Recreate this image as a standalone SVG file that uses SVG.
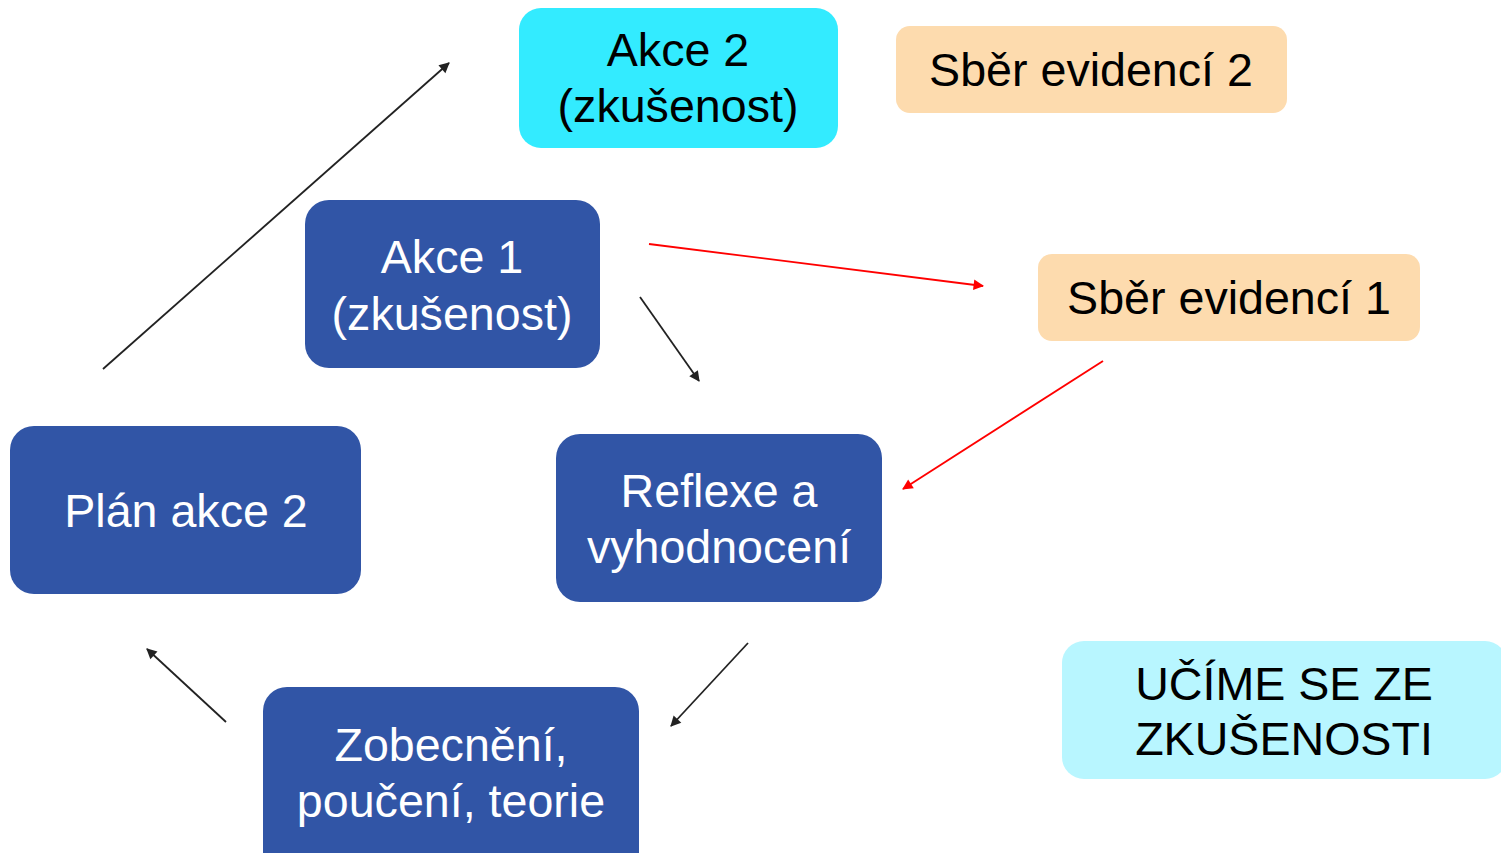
<svg xmlns="http://www.w3.org/2000/svg" width="1501" height="853" viewBox="0 0 1501 853">
<style>
text{font-family:"Liberation Sans",Arial,sans-serif;font-size:46.6px;text-anchor:middle}
.blue rect{fill:#3155A6}
.blue text{fill:#fff}
.dark text{fill:#000}
.blk{stroke:#222;stroke-width:1.8;fill:none}
.red{stroke:#f00;stroke-width:1.8;fill:none}
</style>
<defs>
<marker id="ab" viewBox="0 0 10 10" refX="9" refY="5" markerWidth="7" markerHeight="7" markerUnits="userSpaceOnUse" orient="auto" overflow="visible"><path d="M0,0 L10,5 L0,10 z" fill="#222" transform="scale(1.5) translate(-3,-1.7)"/></marker>
<marker id="ar" viewBox="0 0 10 10" refX="9" refY="5" markerWidth="7" markerHeight="7" markerUnits="userSpaceOnUse" orient="auto" overflow="visible"><path d="M0,0 L10,5 L0,10 z" fill="#f00" transform="scale(1.5) translate(-3,-1.7)"/></marker>
</defs>
<rect width="1501" height="853" fill="#fff"/>
<g id="connectors">
<line class="blk" x1="103" y1="369" x2="449" y2="63" marker-end="url(#ab)"/>
<line class="red" x1="649" y1="244" x2="983" y2="286" marker-end="url(#ar)"/>
<line class="blk" x1="640" y1="297" x2="699" y2="381" marker-end="url(#ab)"/>
<line class="red" x1="1103" y1="361" x2="903" y2="489" marker-end="url(#ar)"/>
<line class="blk" x1="748" y1="643" x2="671" y2="726" marker-end="url(#ab)"/>
<line class="blk" x1="226" y1="722" x2="147" y2="649" marker-end="url(#ab)"/>
</g>
<g id="akce2" class="dark"><rect x="519" y="8" width="319" height="140" rx="22" fill="#33EBFF"/><text x="678" y="66">Akce 2</text><text x="678" y="122">(zkušenost)</text></g>
<g id="sber2" class="dark"><rect x="896" y="26" width="391" height="87" rx="14" fill="#FDDBAE"/><text x="1091" y="86">Sběr evidencí 2</text></g>
<g id="akce1" class="blue"><rect x="305" y="200" width="295" height="168" rx="24"/><text x="452" y="273">Akce 1</text><text x="452" y="330">(zkušenost)</text></g>
<g id="sber1" class="dark"><rect x="1038" y="254" width="382" height="87" rx="14" fill="#FDDBAE"/><text x="1229" y="314">Sběr evidencí 1</text></g>
<g id="plan" class="blue"><rect x="10" y="426" width="351" height="168" rx="24"/><text x="186" y="527">Plán akce 2</text></g>
<g id="reflexe" class="blue"><rect x="556" y="434" width="326" height="168" rx="24"/><text x="719" y="507">Reflexe a</text><text x="719" y="563">vyhodnocení</text></g>
<g id="zobecneni" class="blue"><rect x="263" y="687" width="376" height="190" rx="24"/><text x="451" y="761">Zobecnění,</text><text x="451" y="817">poučení, teorie</text></g>
<g id="ucime" class="dark"><rect x="1062" y="641" width="445" height="138" rx="22" fill="#B8F6FF"/><text x="1284" y="700">UČÍME SE ZE</text><text x="1284" y="755">ZKUŠENOSTI</text></g>
</svg>
